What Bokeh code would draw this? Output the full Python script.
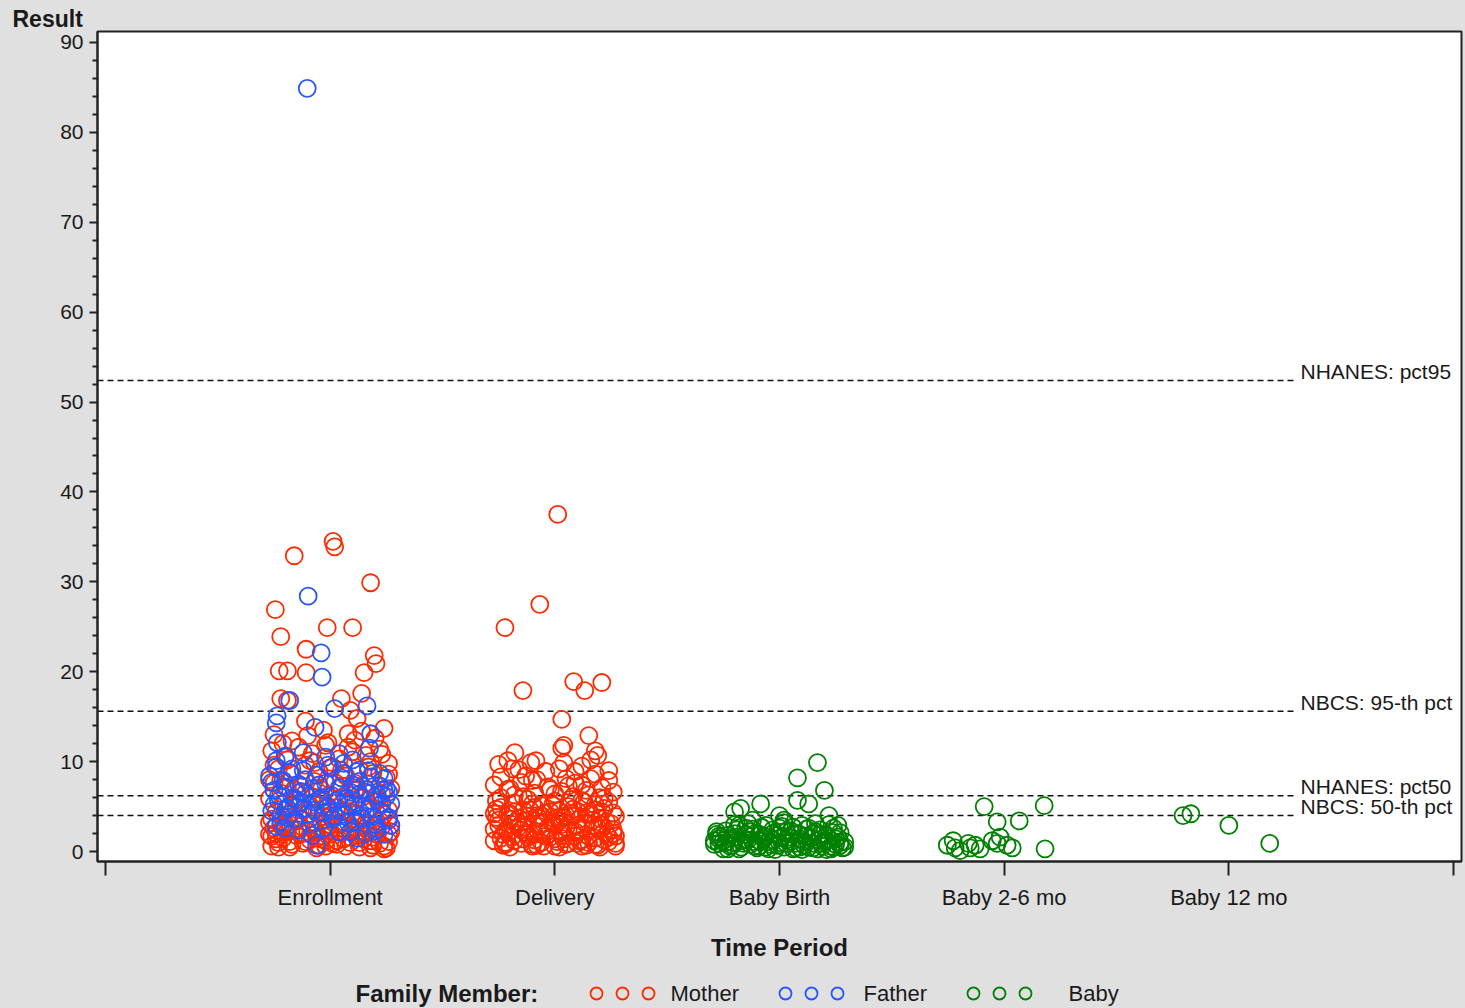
from bokeh.plotting import figure
from bokeh.models import Range1d, FixedTicker, ColumnDataSource
from bokeh.layouts import column
from bokeh.core.properties import value
from bokeh.embed import file_html
from bokeh.resources import INLINE

# ---------------- data ----------------
categories = ["Enrollment", "Delivery", "Baby Birth", "Baby 2-6 mo", "Baby 12 mo"]
members = ["Mother", "Father", "Baby"]
member_colors = ["#ff2a00", "#2855ff", "#008000"]

# Mother, Enrollment: (jitter offset, result)
mother_enr_jit = [-0.244, -0.16, 0.013, 0.02, 0.18, -0.22, -0.013, 0.10, -0.107, -0.227, -0.19, -0.107, 0.196, 0.204, 0.151,
                  -0.22, -0.19, 0.05, 0.14, 0.09, -0.11, 0.24, -0.17, 0.08, 0.12, -0.03, 0.20, -0.25,
                  -0.26, -0.20, -0.14, -0.08, -0.02, 0.04, 0.10, 0.16, 0.22, 0.26, -0.23, -0.17, -0.11, -0.05, 0.01,
                  0.07, 0.13, 0.19, 0.25, -0.27, -0.01, 0.11, -0.21, 0.18, -0.09,
                  -0.25, -0.19, -0.13, -0.07, -0.01, 0.05, 0.11, 0.17, 0.23, 0.27, -0.27, -0.21, -0.15, -0.09, -0.03,
                  0.03, 0.09, 0.15, 0.21, 0.26, -0.24, -0.18, -0.12, -0.06, 0.00, 0.06, 0.12, 0.18, 0.24, -0.16, 0.02,
                  0.20, -0.04, 0.14, -0.22, 0.08,
                  -0.26, -0.20, -0.14, -0.08, -0.02, 0.04, 0.10, 0.16, 0.22, 0.27, -0.25, -0.19, -0.13, -0.07, -0.01,
                  0.05, 0.11, 0.17, 0.23, -0.27, -0.21, -0.15, -0.09, -0.03, 0.03, 0.09, 0.15, 0.21, 0.26, -0.23,
                  -0.17, -0.11, -0.05, 0.01, 0.07, 0.13, 0.19, 0.25, -0.06, 0.24, -0.24, -0.12, 0.00, 0.12, -0.18,
                  0.06, 0.18, -0.02,
                  -0.27, -0.24, -0.21, -0.18, -0.15, -0.12, -0.09, -0.06, -0.03, 0.00, 0.03, 0.06, 0.09, 0.12, 0.15,
                  0.18, 0.21, 0.24, 0.27, -0.26, -0.20, -0.14, -0.08, -0.02, 0.04, 0.10, 0.16, 0.22, 0.26, -0.25,
                  -0.19, -0.13, -0.07, -0.01, 0.05, 0.11, 0.17, 0.23, -0.22, 0.08, -0.10, 0.14, -0.04, 0.19, -0.16,
                  0.01, 0.13, -0.23,
                  -0.26, -0.18, -0.10, -0.02, 0.06, 0.14, 0.22, -0.22, -0.06, 0.10, 0.26, 0.18]
mother_enr_val = [26.9, 32.9, 34.5, 33.9, 29.9, 23.9, 24.9, 24.9, 22.5, 20.1, 20.1, 19.9, 21.8, 20.9, 19.9,
                  17.0, 16.8, 17.0, 17.6, 15.7, 14.5, 13.7, 12.3, 13.1, 14.8, 13.5, 12.6, 13.0,
                  11.2, 10.5, 11.6, 10.9, 11.8, 10.3, 11.1, 10.7, 11.4, 9.8, 9.2, 8.6, 9.6, 8.9, 9.4,
                  8.4, 9.1, 8.7, 8.2, 8.0, 12.1, 12.4, 12.0, 10.0, 10.1,
                  7.6, 7.1, 6.6, 7.8, 6.2, 7.3, 6.8, 7.5, 6.4, 7.0, 5.9, 5.3, 5.8, 5.1, 5.6,
                  4.9, 5.5, 5.0, 5.7, 4.6, 4.4, 4.1, 4.7, 4.3, 4.0, 4.5, 4.2, 4.8, 4.1, 6.9, 7.7,
                  6.1, 6.9, 6.0, 6.5, 6.3,
                  3.6, 3.1, 3.8, 3.3, 3.5, 3.0, 3.7, 3.2, 3.4, 2.9, 2.6, 2.2, 2.8, 2.4, 2.7,
                  2.1, 2.5, 2.3, 2.8, 1.9, 1.5, 1.8, 1.3, 1.7, 1.2, 1.6, 1.4, 1.9, 1.1, 1.0,
                  0.8, 1.1, 0.7, 0.9, 0.6, 1.0, 0.7, 0.4, 0.4, 0.3, 2.0, 2.0, 1.9, 1.8, 3.0,
                  3.3, 2.6, 1.2,
                  3.2, 1.4, 2.7, 1.1, 3.4, 0.9, 2.9, 1.5, 3.9, 2.3, 0.8, 2.6, 1.0, 3.1, 2.0,
                  1.2, 2.9, 0.6, 2.2, 0.6, 4.6, 5.4, 6.1, 4.8, 5.9, 4.3, 6.6, 5.2, 8.6, 9.6,
                  10.2, 7.3, 9.9, 8.1, 9.0, 7.6, 9.4, 10.8, 7.9, 11.6, 12.9, 13.4, 1.4, 1.6, 2.4,
                  3.6, 0.5, 0.5,
                  1.7, 0.5, 2.2, 0.6, 1.4, 1.8, 0.9, 2.9, 2.1, 2.4, 1.9, 0.4]

# Mother, Delivery
mother_del_jit = [0.013, -0.067, -0.222, -0.142, 0.084, 0.209, 0.133, 0.031, 0.151, 0.031, 0.04, -0.178, 0.191, -0.209,
                  -0.107, -0.084,
                  -0.25, -0.19, -0.13, -0.04, 0.05, 0.12, 0.18, 0.24, -0.27, -0.21, -0.15, -0.09, -0.03, 0.03, 0.09,
                  0.15, 0.21, 0.26, -0.24, -0.18, -0.12, -0.06, 0.00, 0.06, 0.12, 0.18, 0.24, -0.26, -0.20, -0.14,
                  -0.08, -0.02, 0.04, 0.10, 0.16, 0.22, 0.27, -0.25, -0.19, -0.13, -0.07, -0.01, 0.05, 0.11, 0.17,
                  0.23, -0.27, -0.21, -0.15, -0.09, -0.03, 0.03, 0.09, 0.15, 0.21, 0.26, -0.24, -0.18, -0.12, -0.06,
                  0.00, 0.06, 0.12, 0.18, 0.24, 0.27, -0.22, -0.10, 0.02, 0.14, 0.08, 0.20, -0.10, 0.00, 0.14, -0.16,
                  0.09, 0.02, 0.16, 0.18,
                  -0.27, -0.25, -0.23, -0.21, -0.19, -0.17, -0.15, -0.13, -0.11, -0.09, -0.07, -0.05, -0.03, -0.01,
                  0.01, 0.03, 0.05, 0.07, 0.09, 0.11, 0.13, 0.15, 0.17, 0.19, 0.21, 0.23, 0.25, 0.27, -0.26, -0.22,
                  -0.18, -0.14, -0.10, -0.06, -0.02, 0.02, 0.06, 0.10, 0.14, 0.18, 0.22, 0.26, -0.24, -0.20, -0.16,
                  -0.12, -0.08, -0.04, 0.00, 0.04, 0.08, 0.12, 0.16, 0.20, 0.24, -0.20, 0.00, 0.20, -0.09, 0.11,
                  -0.14, 0.07, -0.05, 0.19, -0.23, 0.03,
                  -0.26, -0.22, -0.18, -0.14, -0.10, -0.06, -0.02, 0.02, 0.06, 0.10, 0.14, 0.18, 0.22, 0.26, -0.24,
                  -0.16, -0.08, 0.00, 0.08, 0.16, 0.24, -0.20, -0.12, -0.04, 0.04, 0.12, 0.20, -0.27, 0.27, 0.05]
mother_del_val = [37.5, 27.5, 24.9, 17.9, 18.9, 18.8, 17.9, 14.7, 12.9, 11.5, 11.8, 11.0, 10.7, 10.1,
                  9.9, 10.1,
                  9.7, 9.2, 8.4, 8.9, 8.1, 9.5, 8.6, 7.9, 7.4, 6.9, 7.7, 6.5, 7.2, 6.7, 7.6,
                  6.3, 7.1, 6.6, 6.0, 5.4, 5.8, 5.1, 5.6, 5.0, 5.7, 5.2, 5.5, 4.7, 4.2, 4.6,
                  4.0, 4.4, 3.8, 4.5, 4.1, 4.8, 3.9, 3.5, 3.0, 3.4, 2.8, 3.2, 2.7, 3.6, 2.9,
                  3.3, 2.5, 2.1, 2.4, 1.9, 2.3, 1.8, 2.2, 1.7, 2.6, 2.0, 1.5, 1.2, 1.6, 1.0,
                  1.4, 0.9, 1.3, 0.8, 1.1, 0.6, 0.8, 0.6, 0.5, 0.7, 6.1, 6.0, 7.9, 6.4, 4.3, 3.7,
                  8.9, 9.2, 10.2, 11.2,
                  1.2, 2.9, 0.7, 4.1, 1.6, 3.3, 0.9, 2.1, 4.6, 1.3, 3.7, 0.6, 2.6, 5.2,
                  1.1, 3.0, 0.8, 4.2, 1.7, 2.4, 5.5, 1.0, 3.5, 0.7, 4.4, 1.9, 3.1, 0.9, 5.6, 2.3,
                  6.3, 1.4, 5.3, 2.0, 6.9, 3.4, 7.3, 2.9, 6.8, 1.5, 5.9, 4.3, 8.3, 7.0, 9.1,
                  3.9, 8.0, 1.7, 3.6, 9.9, 4.7, 7.4, 8.1, 3.7, 9.0, 0.5, 0.6, 0.5, 4.9, 1.2,
                  6.1, 5.8, 3.1, 2.7, 1.9, 2.2,
                  3.8, 1.0, 4.4, 2.7, 0.8, 4.0, 1.6, 4.5, 2.5, 0.9, 3.2, 4.6, 1.3, 2.4, 4.9,
                  2.8, 0.7, 2.9, 3.9, 4.2, 1.6, 3.6, 1.9, 4.3, 1.4, 0.6, 3.0, 4.2, 1.7, 4.0]

# Father, Enrollment
father_enr_jit = [-0.102, -0.098, -0.04, -0.036, 0.02, 0.164, -0.18, -0.236, -0.24, -0.067, 0.18, -0.235, 0.175, -0.12,
                  -0.20, 0.04, 0.10,
                  -0.24, -0.18, -0.12, -0.06, 0.00, 0.06, 0.12, 0.18, 0.24, -0.26, -0.20, -0.14, -0.08, -0.02, 0.04,
                  0.10, 0.16, 0.22, 0.26, -0.23, -0.17, -0.11, -0.05, 0.01, 0.07, 0.13, 0.19, 0.25, -0.25, -0.19,
                  -0.13, -0.07, -0.01, 0.05, 0.11, 0.17, 0.23, -0.22, -0.16, -0.10, -0.04, 0.02, 0.08, 0.14, 0.20,
                  0.26, -0.24, -0.14, -0.03, 0.09, 0.21, -0.06, 0.24, 0.12,
                  -0.27, -0.25, -0.23, -0.21, -0.19, -0.17, -0.15, -0.13, -0.11, -0.09, -0.07, -0.05, -0.03, -0.01,
                  0.01, 0.03, 0.05, 0.07, 0.09, 0.11, 0.13, 0.15, 0.17, 0.19, 0.21, 0.23, 0.25, 0.27, 0.27, -0.26,
                  -0.20, -0.16, -0.12, -0.04, 0.00, 0.08, 0.14, 0.20, 0.26, -0.22, 0.16, 0.04, -0.08, 0.24, -0.18,
                  0.12, -0.24, 0.22, -0.02, 0.06]
father_enr_val = [84.9, 28.4, 22.1, 19.4, 15.9, 16.2, 16.8, 15.1, 14.3, 13.8, 13.1, 12.1, 11.5, 11.0,
                  10.6, 10.9, 10.2,
                  9.4, 8.8, 9.0, 8.5, 9.3, 8.7, 8.9, 8.3, 8.1, 7.7, 7.2, 7.5, 7.0, 7.6, 7.1,
                  7.4, 6.9, 7.3, 6.6, 6.3, 6.0, 6.5, 5.8, 6.2, 5.9, 6.4, 5.6, 6.1, 5.2, 4.8,
                  5.4, 4.6, 5.0, 4.4, 5.1, 4.7, 5.3, 4.0, 3.6, 4.2, 3.4, 3.9, 3.2, 3.7, 3.0,
                  3.5, 2.8, 2.4, 2.6, 2.2, 2.5, 0.7, 1.9, 1.5,
                  8.4, 6.8, 5.6, 7.9, 3.8, 9.2, 4.9, 6.7, 8.0, 3.1, 5.5, 7.4, 4.3, 9.6,
                  3.6, 5.7, 8.2, 4.1, 6.6, 3.3, 7.8, 5.0, 9.0, 3.9, 6.3, 4.4, 7.0, 5.3, 2.9, 4.5,
                  2.6, 5.9, 4.8, 6.0, 4.6, 5.2, 4.0, 2.3, 3.8, 3.3, 2.0, 2.2, 1.8, 6.8, 5.1,
                  6.9, 10.1, 8.7, 10.5, 9.8]

# Baby, Baby Birth
baby_birth_jit = [0.169, 0.08, 0.2, 0.08, 0.13, -0.173, -0.084, 0.22, 0.0, 0.02, 0.22, -0.12, -0.20, 0.18, 0.26,
                  -0.28, -0.25, -0.22, -0.19, -0.16, -0.13, -0.10, -0.07, -0.04, -0.01, 0.02, 0.05, 0.08, 0.11, 0.14,
                  0.17, 0.20, 0.23, 0.26, 0.28, -0.27, -0.24, -0.21, -0.18, -0.15, -0.12, -0.09, -0.06, -0.03, 0.00,
                  0.03, 0.06, 0.09, 0.12, 0.15, 0.18, 0.21, 0.24, 0.27, -0.26, -0.20, -0.14, -0.08, -0.02, 0.04,
                  0.10, 0.16, 0.22, -0.23, -0.11, 0.01, 0.13, 0.25, -0.17, -0.05, 0.07, 0.19, -0.29, 0.29,
                  -0.29, -0.27, -0.25, -0.23, -0.21, -0.19, -0.17, -0.15, -0.13, -0.11, -0.09, -0.07, -0.05, -0.03,
                  -0.01, 0.01, 0.03, 0.05, 0.07, 0.09, 0.11, 0.13, 0.15, 0.17, 0.19, 0.21, 0.23, 0.25, 0.27, 0.29,
                  -0.28, -0.20, -0.14, -0.06, 0.02, 0.10, 0.16, 0.24, -0.18, 0.06,
                  -0.27, -0.21, -0.15, -0.09, -0.03, 0.03, 0.09, 0.15, 0.21, 0.27, -0.24, -0.12, 0.00, 0.12, 0.24]
baby_birth_val = [9.9, 8.2, 6.8, 5.7, 5.3, 4.8, 5.3, 4.0, 4.0, 3.2, 3.0, 3.5, 4.4, 2.4, 2.9,
                  1.9, 1.2, 0.6, 1.6, 0.9, 2.2, 0.4, 1.4, 0.8, 1.8, 0.5, 1.1, 2.0, 0.7, 1.5,
                  0.3, 1.2, 0.6, 1.6, 0.4, 0.9, 2.3, 1.5, 0.3, 2.6, 1.1, 1.9, 0.5, 2.4, 1.0,
                  2.2, 0.3, 1.4, 2.5, 0.9, 1.9, 0.2, 2.1, 1.0, 1.6, 2.0, 1.3, 2.7, 0.2, 1.6,
                  0.2, 2.2, 1.4, 0.3, 0.6, 2.8, 0.5, 0.8, 1.2, 1.1, 0.9, 0.6, 1.2, 0.5,
                  0.8, 1.4, 0.3, 1.8, 1.0, 2.4, 0.5, 1.3, 0.8, 2.0, 0.6, 1.7, 0.3, 1.3,
                  0.7, 1.6, 0.9, 2.3, 0.4, 1.9, 1.1, 2.6, 0.4, 1.3, 0.9, 1.8, 0.3, 1.4, 0.7, 1.1,
                  2.2, 3.0, 3.1, 2.9, 3.5, 2.9, 3.1, 2.6, 2.9, 2.7,
                  1.7, 0.7, 1.9, 1.2, 2.0, 1.3, 0.5, 2.0, 1.2, 2.1, 1.0, 2.5, 2.6, 1.7, 0.5]

# Baby, Baby 2-6 mo
baby_26_jit = [-0.089, 0.178, -0.031, 0.067, 0.182, -0.253, -0.218, -0.227, -0.196, -0.151, -0.129, -0.107, -0.053,
               -0.018, -0.031, 0.013, 0.036, -0.16]
baby_26_val = [5.0, 5.1, 3.3, 3.4, 0.3, 0.7, 0.4, 1.2, 0.1, 0.4, 0.7, 0.3, 1.2, 1.6, 0.9, 0.7, 0.4, 0.9]

# Baby, Baby 12 mo
baby_12_jit = [-0.204, -0.169, 0.0, 0.182]
baby_12_val = [4.0, 4.2, 2.9, 0.9]

# reference lines
ref_labels = ["NHANES: pct95", "NBCS: 95-th pct", "NHANES: pct50", "NBCS: 50-th pct"]
ref_values = [52.4, 15.6, 6.2, 4.0]

y_major = list(range(0, 91, 10))
y_minor = [v for v in range(0, 91, 2) if v % 10 != 0]

# ---------------- figure ----------------
BG = "#e0e0e0"
FONT = "Liberation Sans"
TXT = "#1a1a1a"
X0, X1 = -0.0356, 6.0356
Y0, Y1 = -1.11, 91.22

p = figure(width=1465, height=972, output_backend="svg", toolbar_location=None,
           x_range=Range1d(X0, X1), y_range=Range1d(Y0, Y1),
           min_border_left=97, min_border_right=4, min_border_top=31, min_border_bottom=111,
           background_fill_color="white", border_fill_color=BG,
           outline_line_color="#222222", outline_line_width=2)
p.grid.visible = False

# y-axis title drawn as a left-aligned title above the frame
p.title.text = "Result"
p.title.align = "left"
p.title.offset = -85
p.title.standoff = 0
p.title.text_font = FONT
p.title.text_font_size = "23px"
p.title.text_font_style = "bold"
p.title.text_color = TXT

# x axis
p.xaxis.ticker = FixedTicker(ticks=list(range(0, 7)))
p.xaxis.major_label_overrides = {0: "", 6: "", **{i + 1: c for i, c in enumerate(categories)}}
p.xaxis.major_tick_in = 0
p.xaxis.major_tick_out = 14
p.xaxis.major_label_standoff = 9
p.xaxis.axis_label = "Time Period"
p.xaxis.axis_label_standoff = 21
p.xaxis.axis_label_text_font_style = "bold"
p.xaxis.axis_label_text_font_size = "24px"
p.xaxis.axis_label_text_font = FONT
p.xaxis.axis_label_text_color = TXT

# y axis
p.yaxis.ticker = FixedTicker(ticks=y_major, minor_ticks=y_minor)
p.yaxis.major_tick_in = 0
p.yaxis.major_tick_out = 8
p.yaxis.minor_tick_in = 0
p.yaxis.minor_tick_out = 5
p.yaxis.major_label_standoff = 6

for ax in (p.xaxis[0], p.yaxis[0]):
    ax.axis_line_color = "#222222"
    ax.axis_line_width = 2
    ax.major_tick_line_color = "#222222"
    ax.major_tick_line_width = 2
    ax.minor_tick_line_width = 2
    ax.major_label_text_font = FONT
    ax.major_label_text_font_size = "21px"
    ax.major_label_text_color = TXT
p.xaxis.major_label_text_font_size = "22px"
p.xaxis.minor_tick_line_color = None
p.yaxis.minor_tick_line_color = "#222222"

# reference lines
line_end = 5.306
label_x = 5.319
p.segment(x0=[X0] * len(ref_values), x1=[line_end] * len(ref_values), y0=ref_values, y1=ref_values,
          line_color="#111111", line_width=1.5, line_dash="6 4")
p.text(x=[label_x] * len(ref_values), y=ref_values, text=ref_labels,
       text_font=value(FONT), text_font_size="21px", text_color=TXT,
       text_align="left", text_baseline="middle", y_offset=-9)

# points
def pts(cat_idx, jit, vals):
    return [cat_idx + j for j in jit], list(vals)

mx1, my1 = pts(1, mother_enr_jit, mother_enr_val)
mx2, my2 = pts(2, mother_del_jit, mother_del_val)
fx, fy = pts(1, father_enr_jit, father_enr_val)
bx1, by1 = pts(3, baby_birth_jit, baby_birth_val)
bx2, by2 = pts(4, baby_26_jit, baby_26_val)
bx3, by3 = pts(5, baby_12_jit, baby_12_val)

groups = [(mx1 + mx2, my1 + my2), (fx, fy), (bx1 + bx2 + bx3, by1 + by2 + by3)]
for (gx, gy), col in zip(groups, member_colors):
    src = ColumnDataSource(dict(x=gx, y=gy))
    p.scatter("x", "y", source=src, marker="circle", size=17, fill_color=None,
              line_color=col, line_width=1.8)

# ---------------- legend strip ----------------
# x in page pixels (frame aligned with the main plot frame 97..1461)
lf = figure(width=1465, height=36, output_backend="svg", toolbar_location=None,
            x_range=Range1d(97, 1461), y_range=Range1d(0, 36), min_border=0,
            background_fill_color=BG, border_fill_color=BG, outline_line_color=None)
lf.axis.visible = False
lf.grid.visible = False
ly = 15
lf.text(x=[355], y=[ly], text=["Family Member:"], text_font=value(FONT), text_font_size="24px",
        text_font_style="bold", text_color=TXT, text_align="left", text_baseline="middle")
item_start = [596, 785, 973]
item_text_x = [670, 863, 1068]
for start, tx, name, col in zip(item_start, item_text_x, members, member_colors):
    lf.scatter(x=[start + 26 * k for k in range(3)], y=[ly] * 3, marker="circle", size=12,
               fill_color=None, line_color=col, line_width=1.8)
    lf.text(x=[tx], y=[ly], text=[name], text_font=value(FONT), text_font_size="22px",
            text_color=TXT, text_align="left", text_baseline="middle")

layout = column(p, lf, spacing=0, styles={"background-color": BG})
open("out.html", "w").write(file_html(layout, INLINE))
